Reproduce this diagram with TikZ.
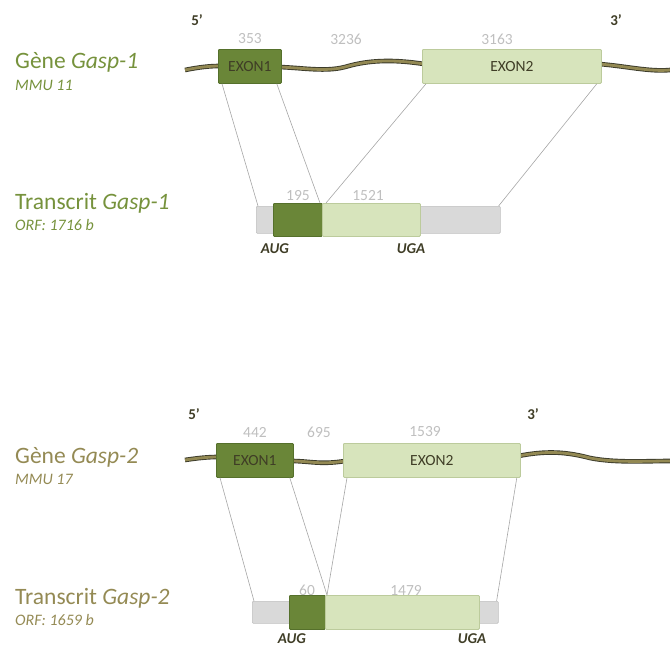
\documentclass[tikz,border=0pt]{standalone}
\usepackage{fontspec}
\setmainfont{Carlito}
\definecolor{gOne}{HTML}{76923C}
\definecolor{gTwo}{HTML}{948A54}
\definecolor{darkex}{HTML}{6A8638}
\definecolor{darkexb}{HTML}{55702B}
\definecolor{lightex}{HTML}{D7E4BC}
\definecolor{lightexb}{HTML}{BCCB9C}
\definecolor{utr}{HTML}{D9D9D9}
\definecolor{utrb}{HTML}{BFBFBF}
\definecolor{numc}{HTML}{BFBFBF}
\definecolor{dtext}{HTML}{3F3D26}
\definecolor{wavefill}{HTML}{938953}
\definecolor{waveedge}{HTML}{3A3A2A}
\definecolor{conn}{HTML}{A6A6A6}
\begin{document}
\begin{tikzpicture}[x=1pt,y=-1pt,
  darkbox/.style={draw=darkexb,fill=darkex,line width=0.8pt,inner sep=0pt,rounded corners=1pt},
  lightbox/.style={draw=lightexb,fill=lightex,line width=0.8pt,inner sep=0pt,rounded corners=1pt},
  utrbox/.style={draw=utrb,fill=utr,line width=0.6pt,inner sep=0pt,rounded corners=1pt},
  extext/.style={font=\fontsize{15.5}{15.5}\selectfont,text=dtext},
  numlab/.style={font=\fontsize{15.5}{15.5}\selectfont,text=numc,inner sep=0pt},
  codon/.style={font=\fontsize{15}{15}\selectfont\bfseries\itshape,text=dtext,inner sep=0pt},
  endlab/.style={font=\fontsize{15}{15}\selectfont\bfseries,text=dtext,inner sep=0pt},
  bigtitle/.style={font=\fontsize{23.5}{23.5}\selectfont,anchor=west,inner sep=0pt},
  subtitle/.style={font=\fontsize{16}{16}\selectfont\itshape,anchor=west,inner sep=0pt},
  waveout/.style={draw=waveedge,line width=4.6pt},
  wavein/.style={draw=wavefill,line width=2.8pt},
  connector/.style={draw=conn,line width=0.6pt}]
\useasboundingbox (0,0) rectangle (670,648);

% ---------- Gene 1 ----------
\node[bigtitle,text=gOne] (g1title) at (15,62) {Gène \textit{Gasp-1}};
\node[subtitle,text=gOne] (g1sub) at (15,85) {MMU 11};
\node[endlab] (g1five) at (197,20) {5’};
\node[endlab] (g1three) at (616,20) {3’};

\foreach \s in {waveout,wavein}{
  \draw[\s] (185,70) .. controls (200,67) and (210,66) .. (220,66);
  \draw[\s] (279,67) .. controls (305,68) and (325,72) .. (345,67)
                      .. controls (362,62) and (385,58) .. (424,64);
  \draw[\s] (599,64) .. controls (625,66) and (650,72) .. (670,70);
}
\node[darkbox,minimum width=63pt,minimum height=34pt,anchor=north west] (g1e1) at (218,49) {};
\node[extext] at (g1e1.center) {EXON1};
\node[lightbox,minimum width=179pt,minimum height=34pt,anchor=north west] (g1e2) at (422,49) {};
\node[extext] at (g1e2.center) {EXON2};
\node[numlab] (g1n1) at (250,39) {353};
\node[numlab] (g1n2) at (346,39) {3236};
\node[numlab] (g1n3) at (497,39) {3163};

% ---------- Transcript 1 ----------
\node[bigtitle,text=gOne] (t1title) at (15,203) {Transcrit \textit{Gasp-1}};
\node[subtitle,text=gOne] (t1sub) at (15,225) {ORF: 1716 b};

\node[utrbox,minimum width=20pt,minimum height=27pt,anchor=north west] (t1u5) at (256,206) {};
\node[utrbox,minimum width=82pt,minimum height=27pt,anchor=north west] (t1u3) at (418,206) {};
\node[darkbox,minimum width=49pt,minimum height=33pt,anchor=north west] (t1c1) at (273,203) {};
\node[lightbox,minimum width=98pt,minimum height=33pt,anchor=north west] (t1c2) at (322,203) {};
\node[numlab] (t1n1) at (298,196) {195};
\node[numlab] (t1n2) at (368,196) {1521};
\node[codon] (t1aug) at (275,249) {AUG};
\node[codon] (t1uga) at (411,249) {UGA};

\coordinate (t1j1) at (320,203);
\coordinate (t1j2) at (326,203);
\draw[connector] ([xshift=4pt]g1e1.south west) -- ([xshift=2pt]t1u5.north west);
\draw[connector] ([xshift=-5pt]g1e1.south east) -- (t1j1);
\draw[connector] ([xshift=4pt]g1e2.south west) -- (t1j2);
\draw[connector] ([xshift=-5pt]g1e2.south east) -- ([xshift=-2pt]t1u3.north east);

% ---------- Gene 2 ----------
\node[bigtitle,text=gTwo] (g2title) at (15,457) {Gène \textit{Gasp-2}};
\node[subtitle,text=gTwo] (g2sub) at (15,479) {MMU 17};
\node[endlab] (g2five) at (194,414) {5’};
\node[endlab] (g2three) at (533,414) {3’};

\foreach \s in {waveout,wavein}{
  \draw[\s] (185,460) .. controls (198,458) and (208,457) .. (218,457);
  \draw[\s] (291,461) .. controls (310,461) and (320,465) .. (345,461);
  \draw[\s] (518,456) .. controls (540,452) and (560,450) .. (590,458)
                      .. controls (615,463) and (645,461) .. (670,461);
}
\node[darkbox,minimum width=77pt,minimum height=34pt,anchor=north west] (g2e1) at (216,443) {};
\node[extext] at (g2e1.center) {EXON1};
\node[lightbox,minimum width=177pt,minimum height=34pt,anchor=north west] (g2e2) at (343,443) {};
\node[extext] at (g2e2.center) {EXON2};
\node[numlab] (g2n1) at (255,432) {442};
\node[numlab] (g2n2) at (319,432) {695};
\node[numlab] (g2n3) at (425,432) {1539};

% ---------- Transcript 2 ----------
\node[bigtitle,text=gTwo] (t2title) at (15,598) {Transcrit \textit{Gasp-2}};
\node[subtitle,text=gTwo] (t2sub) at (15,620) {ORF: 1659 b};

\node[utrbox,minimum width=39pt,minimum height=22pt,anchor=north west] (t2u5) at (252,601) {};
\node[utrbox,minimum width=21pt,minimum height=22pt,anchor=north west] (t2u3) at (477,601) {};
\node[darkbox,minimum width=36pt,minimum height=34pt,anchor=north west] (t2c1) at (289,595) {};
\node[lightbox,minimum width=154pt,minimum height=34pt,anchor=north west] (t2c2) at (325,595) {};
\node[numlab] (t2n1) at (307,590) {60};
\node[numlab] (t2n2) at (406,590) {1479};
\node[codon] (t2aug) at (292,639) {AUG};
\node[codon] (t2uga) at (472,639) {UGA};

\coordinate (t2j) at (327,595);
\draw[connector] ([xshift=4pt]g2e1.south west) -- ([xshift=2pt]t2u5.north west);
\draw[connector] ([xshift=-4pt]g2e1.south east) -- (t2j);
\draw[connector] ([xshift=4pt]g2e2.south west) -- (t2j);
\draw[connector] ([xshift=-4pt]g2e2.south east) -- ([xshift=-2pt]t2u3.north east);
\end{tikzpicture}
\end{document}
